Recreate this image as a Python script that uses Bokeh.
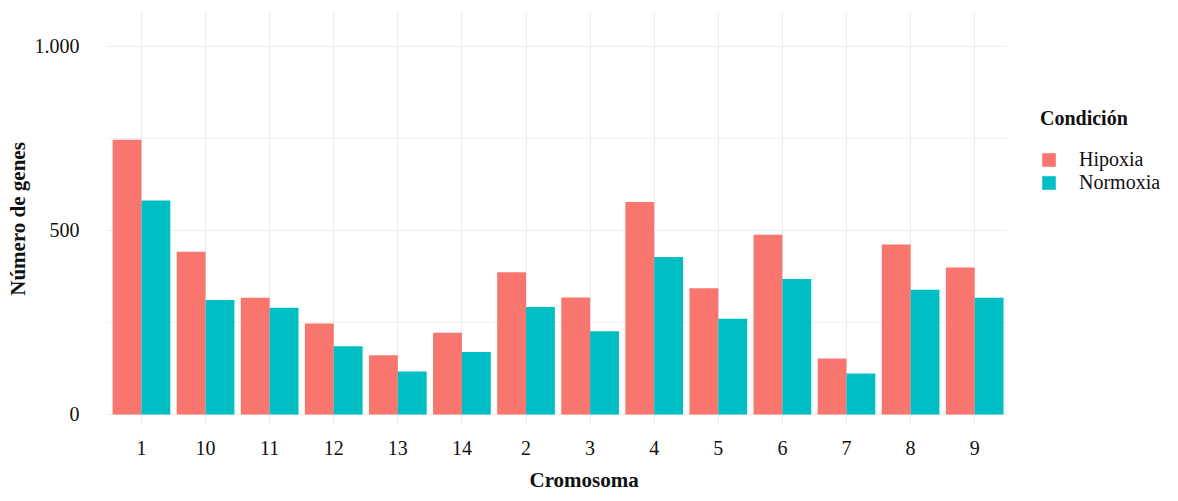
from bokeh.embed import file_html
from bokeh.models import (ColumnDataSource, FixedTicker, Legend, LegendItem,
                          Range1d, Title)
from bokeh.plotting import figure
from bokeh.resources import INLINE
from bokeh.transform import dodge

# Genes per chromosome under each condition
chromosomes = ["1", "10", "11", "12", "13", "14", "2", "3", "4", "5", "6", "7", "8", "9"]
hipoxia = [746, 442, 317, 247, 161, 222, 386, 318, 577, 343, 488, 152, 462, 399]
normoxia = [581, 311, 290, 185, 117, 170, 292, 226, 428, 260, 368, 111, 339, 317]

y_ticks = [0, 500, 1000]
y_tick_labels = ["0", "500", "1.000"]
y_minor = [250, 750]

series_names = ["Hipoxia", "Normoxia"]
series_colors = ["#F8766D", "#00BFC4"]

FONT = "Liberation Serif"
TEXT = "#111111"
GRID = "#EBEBEB"

# panel extent along x (data units); the frame continues to the right
# to leave room for the legend
X_LO, X_HI = 0.47, 14.5

positions = list(range(1, len(chromosomes) + 1))
source = ColumnDataSource(dict(pos=positions, chrom=chromosomes,
                               hip=hipoxia, nor=normoxia))

p = figure(width=1178, height=501, output_backend="svg", toolbar_location=None,
           x_range=Range1d(X_LO, 17.18), y_range=Range1d(-30, 1092),
           min_border_left=107, min_border_right=0,
           min_border_top=12, min_border_bottom=76)

p.outline_line_color = None
p.background_fill_color = "white"
p.border_fill_color = "white"

# horizontal grid lines limited to the panel
grid_vals = sorted(y_ticks + y_minor)
grid_w = [1.0 if v in y_ticks else 0.8 for v in grid_vals]
p.segment(x0=[X_LO] * len(grid_vals), x1=[X_HI] * len(grid_vals),
          y0=grid_vals, y1=grid_vals, line_color=GRID, line_width=grid_w)
p.ygrid.grid_line_color = None

bar_w = 0.45
r_hip = p.vbar(x=dodge("pos", -bar_w / 2, range=p.x_range), top="hip", bottom=0,
               width=bar_w, source=source, fill_color=series_colors[0],
               line_color=None)
r_nor = p.vbar(x=dodge("pos", bar_w / 2, range=p.x_range), top="nor", bottom=0,
               width=bar_w, source=source, fill_color=series_colors[1],
               line_color=None)

# x axis: one tick per chromosome
p.xaxis.ticker = FixedTicker(ticks=positions)
p.xaxis.major_label_overrides = {pos: c for pos, c in zip(positions, chromosomes)}
# y axis
p.yaxis.ticker = FixedTicker(ticks=y_ticks)
p.yaxis.major_label_overrides = {t: l for t, l in zip(y_ticks, y_tick_labels)}

for ax in (p.xaxis, p.yaxis):
    ax.axis_line_color = None
    ax.major_tick_line_color = None
    ax.minor_tick_line_color = None
    ax.major_label_text_font = FONT
    ax.major_label_text_font_size = "20px"
    ax.major_label_text_color = TEXT
    ax.axis_label_text_font = FONT
    ax.axis_label_text_font_size = "21px"
    ax.axis_label_text_font_style = "bold"
    ax.axis_label_text_color = TEXT

p.yaxis.axis_label = "Número de genes"
p.xaxis.major_label_standoff = 9
p.yaxis.major_label_standoff = 22
p.yaxis.axis_label_standoff = 2

p.xgrid.grid_line_color = GRID
p.xgrid.grid_line_width = 1

# x-axis title, placed under the bars
p.add_layout(Title(text="Cromosoma", align="left", offset=422,
                   text_font=FONT, text_font_size="21px",
                   text_font_style="bold", text_color=TEXT,
                   standoff=16), "below")

legend = Legend(
    items=[LegendItem(label=series_names[0], renderers=[r_hip]),
           LegendItem(label=series_names[1], renderers=[r_nor])],
    location=(933, 231), title="Condición",
    title_text_font=FONT, title_text_font_size="20px",
    title_text_font_style="bold", title_text_color=TEXT, title_standoff=18,
    label_text_font=FONT, label_text_font_size="20px", label_text_color=TEXT,
    label_standoff=22, glyph_width=17, glyph_height=17, label_height=17,
    spacing=0, padding=0, margin=0, border_line_color=None,
    background_fill_alpha=0,
)
p.add_layout(legend)

open("out.html", "w").write(file_html(p, INLINE))
